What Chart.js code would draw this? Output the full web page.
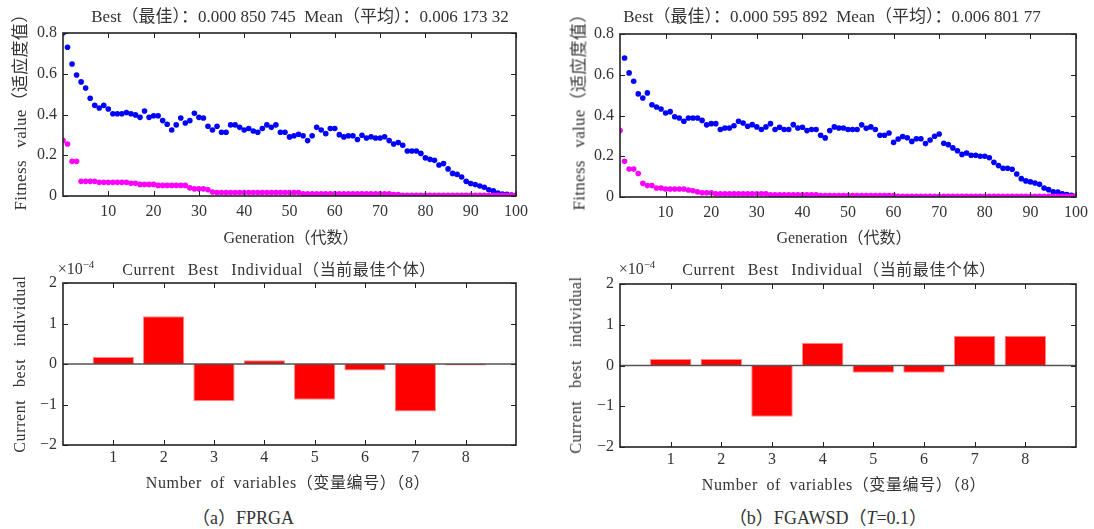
<!DOCTYPE html>
<html>
<head>
<meta charset="utf-8">
<script src="https://cdn.jsdelivr.net/npm/chart.js@4"></script>
<style>
body { margin: 0; background: #fff; width: 1094px; height: 529px; position: relative; overflow: hidden;
       font-family: 'Liberation Serif', 'Noto Sans CJK SC', serif; color: #333; }
canvas { position: absolute; }
.t { position: absolute; white-space: nowrap; transform: translate(-50%, -50%); font-size: 16px; }
.v { transform: translate(-50%, -50%) rotate(-90deg); }
.head { font-size: 17px; }
.sp { word-spacing: 8px; letter-spacing: 0.6px; }
sup { font-size: 11px; }
</style>
</head>
<body>
<canvas id="fitA" width="545" height="250" style="left:0;top:0"></canvas>
<canvas id="fitB" width="546" height="250" style="left:548px;top:0"></canvas>
<canvas id="barA" width="545" height="215" style="left:0;top:255px"></canvas>
<canvas id="barB" width="546" height="215" style="left:548px;top:255px"></canvas>

<div class="t head" style="left:300px;top:14px">Best（最佳）：0.000 850 745&nbsp;&nbsp;Mean（平均）：0.006 173 32</div>
<div class="t head" style="left:832px;top:14px">Best（最佳）：0.000 595 892&nbsp;&nbsp;Mean（平均）：0.006 801 77</div>
<div class="t v sp" style="left:18px;top:108px;font-size:17px;letter-spacing:0.3px">Fitness value（适应度值）</div>
<div class="t v sp" style="left:577px;top:108px;font-size:17px;letter-spacing:0.3px">Fitness value（适应度值）</div>
<div class="t" style="left:291px;top:236px">Generation（代数）</div>
<div class="t" style="left:844px;top:236px">Generation（代数）</div>

<div class="t" style="left:76px;top:268px">×10<sup>−4</sup></div>
<div class="t" style="left:637px;top:268px">×10<sup>−4</sup></div>
<div class="t sp" style="left:279px;top:268px">Current Best Individual（当前最佳个体）</div>
<div class="t sp" style="left:839px;top:268px">Current Best Individual（当前最佳个体）</div>
<div class="t v sp" style="left:20px;top:364px">Current best individual</div>
<div class="t v sp" style="left:576px;top:365px">Current best individual</div>
<div class="t sp" style="left:288px;top:481px;word-spacing:4px">Number of variables（变量编号）（8）</div>
<div class="t sp" style="left:844px;top:483px;word-spacing:4px">Number of variables（变量编号）（8）</div>
<div class="t" style="left:243px;top:516px;font-size:18px">（a）FPRGA</div>
<div class="t" style="left:828px;top:516px;font-size:18px">（b）FGAWSD（<i>T</i>=0.1）</div>

<script>
// generations 0..100
const generations = Array.from({ length: 101 }, (_, i) => i);

// (a) FPRGA
const meanFitnessA = [
    0.8, 0.73, 0.648, 0.594, 0.56, 0.53, 0.48, 0.445, 0.432, 0.445,
    0.427, 0.404, 0.404, 0.404, 0.41, 0.404, 0.398, 0.386, 0.417, 0.386,
    0.394, 0.394, 0.37, 0.352, 0.324, 0.349, 0.383, 0.358, 0.37, 0.406,
    0.386, 0.383, 0.342, 0.324, 0.342, 0.313, 0.313, 0.349, 0.349, 0.337,
    0.324, 0.331, 0.319, 0.313, 0.331, 0.349, 0.337, 0.349, 0.313, 0.313,
    0.29, 0.296, 0.303, 0.296, 0.272, 0.296, 0.337, 0.324, 0.306, 0.331,
    0.331, 0.301, 0.29, 0.296, 0.296, 0.277, 0.298, 0.285, 0.291, 0.285,
    0.285, 0.291, 0.272, 0.255, 0.262, 0.249, 0.221, 0.221, 0.221, 0.209,
    0.187, 0.18, 0.175, 0.152, 0.159, 0.133, 0.111, 0.106, 0.093, 0.072,
    0.061, 0.056, 0.049, 0.043, 0.031, 0.025, 0.015, 0.01, 0.008, 0.005, 0.003
];
const bestFitnessA = [
    0.273, 0.255, 0.17, 0.17, 0.072, 0.072, 0.072, 0.072, 0.067, 0.067,
    0.067, 0.067, 0.067, 0.067, 0.067, 0.062, 0.062, 0.057, 0.057, 0.057,
    0.057, 0.052, 0.052, 0.052, 0.052, 0.052, 0.052, 0.052, 0.04, 0.035,
    0.035, 0.035, 0.031, 0.02, 0.017, 0.017, 0.017, 0.017, 0.017, 0.017,
    0.017, 0.017, 0.017, 0.017, 0.017, 0.017, 0.017, 0.017, 0.017, 0.017,
    0.017, 0.017, 0.017, 0.011, 0.011, 0.011, 0.011, 0.011, 0.011, 0.011,
    0.011, 0.011, 0.011, 0.011, 0.011, 0.011, 0.011, 0.011, 0.011, 0.011,
    0.011, 0.011, 0.011, 0.007, 0.007, 0.003, 0.003, 0.003, 0.003, 0.003,
    0.003, 0.003, 0.003, 0.003, 0.003, 0.003, 0.003, 0.003, 0.003, 0.003,
    0.003, 0.003, 0.003, 0.003, 0.003, 0.003, 0.003, 0.003, 0.003, 0.003, 0.003
];

// (b) FGAWSD (T=0.1), generation 0 mean is above the axis
const meanFitnessB = [
    null, 0.682, 0.609, 0.568, 0.506, 0.486, 0.511, 0.453, 0.442, 0.432,
    0.412, 0.419, 0.394, 0.388, 0.372, 0.388, 0.388, 0.388, 0.376, 0.354,
    0.36, 0.36, 0.331, 0.339, 0.339, 0.35, 0.372, 0.363, 0.347, 0.355,
    0.344, 0.331, 0.344, 0.36, 0.331, 0.342, 0.331, 0.331, 0.355, 0.339,
    0.342, 0.326, 0.331, 0.331, 0.303, 0.29, 0.326, 0.344, 0.339, 0.339,
    0.331, 0.331, 0.331, 0.354, 0.337, 0.344, 0.331, 0.303, 0.303, 0.314,
    0.268, 0.285, 0.297, 0.291, 0.273, 0.286, 0.286, 0.262, 0.28, 0.298,
    0.309, 0.264, 0.257, 0.241, 0.227, 0.209, 0.216, 0.205, 0.205, 0.2,
    0.2, 0.193, 0.17, 0.154, 0.141, 0.141, 0.136, 0.113, 0.09, 0.079,
    0.074, 0.069, 0.062, 0.044, 0.036, 0.025, 0.024, 0.016, 0.012, 0.008, 0.005
];
const bestFitnessB = [
    0.326, 0.175, 0.137, 0.137, 0.115, 0.067, 0.056, 0.056, 0.044, 0.044,
    0.039, 0.039, 0.039, 0.039, 0.039, 0.034, 0.031, 0.025, 0.021, 0.021,
    0.021, 0.016, 0.016, 0.016, 0.016, 0.016, 0.016, 0.016, 0.016, 0.016,
    0.016, 0.016, 0.016, 0.011, 0.011, 0.011, 0.011, 0.011, 0.011, 0.011,
    0.011, 0.011, 0.011, 0.011, 0.007, 0.007, 0.007, 0.007, 0.007, 0.007,
    0.007, 0.007, 0.007, 0.007, 0.007, 0.007, 0.007, 0.007, 0.007, 0.007,
    0.007, 0.004, 0.004, 0.004, 0.004, 0.004, 0.004, 0.004, 0.004, 0.004,
    0.004, 0.004, 0.004, 0.004, 0.004, 0.004, 0.004, 0.004, 0.004, 0.004,
    0.004, 0.004, 0.004, 0.004, 0.004, 0.004, 0.004, 0.004, 0.004, 0.004,
    0.004, 0.004, 0.004, 0.004, 0.004, 0.004, 0.004, 0.004, 0.004, 0.004, 0.004
];

// current best individual, in units of 1e-4
const variableIds = [1, 2, 3, 4, 5, 6, 7, 8];
const bestIndividualA = [0.17, 1.18, -0.92, 0.09, -0.88, -0.16, -1.17, -0.04];
const bestIndividualB = [0.16, 0.16, -1.26, 0.56, -0.18, -0.18, 0.73, 0.73];

const generationTicks = [10, 20, 30, 40, 50, 60, 70, 80, 90, 100];
const fitnessTicks = [0, 0.2, 0.4, 0.6, 0.8];
const individualTicks = [-2, -1, 0, 1, 2];

Chart.defaults.font.family = "'Liberation Serif', 'Noto Sans CJK SC', serif";
Chart.defaults.font.size = 16;
Chart.defaults.color = '#333';

// box around the axes, inward tick marks on all four sides, optional zero line
const framePlugin = {
    id: 'frame',
    afterDatasetsDraw(chart, args, opts) {
        const { ctx, chartArea: a, scales: { x, y } } = chart;
        ctx.save();
        if (opts.baseline) {
            const y0 = y.getPixelForValue(0);
            ctx.strokeStyle = '#555';
            ctx.lineWidth = 1.5;
            ctx.beginPath();
            ctx.moveTo(a.left, y0);
            ctx.lineTo(a.right, y0);
            ctx.stroke();
        }
        ctx.strokeStyle = '#222';
        ctx.lineWidth = 1;
        ctx.beginPath();
        x.ticks.forEach(t => {
            const px = Math.round(x.getPixelForValue(t.value)) + 0.5;
            ctx.moveTo(px, a.bottom); ctx.lineTo(px, a.bottom - 5);
            ctx.moveTo(px, a.top); ctx.lineTo(px, a.top + 5);
        });
        y.ticks.forEach(t => {
            const py = Math.round(y.getPixelForValue(t.value)) + 0.5;
            ctx.moveTo(a.left, py); ctx.lineTo(a.left + 5, py);
            ctx.moveTo(a.right, py); ctx.lineTo(a.right - 5, py);
        });
        ctx.stroke();
        ctx.lineWidth = 1.6;
        ctx.strokeRect(a.left, a.top, a.width, a.height);
        ctx.restore();
    }
};

// box: canvas position on the page, area: wanted plot rectangle on the page
function areaOptions(box, area) {
    return {
        padding: { top: area.top - box.top, right: box.left + box.width - area.right, left: 0, bottom: 0 },
        yWidth: area.left - box.left,
        xHeight: box.top + box.height - area.bottom
    };
}

function fitnessChart(id, box, area, mean, best) {
    const lay = areaOptions(box, area);
    const points = (values) => generations.map((g, i) => ({ x: g, y: values[i] }));
    return new Chart(document.getElementById(id), {
        type: 'scatter',
        data: {
            datasets: [
                { data: points(best), backgroundColor: '#ff00ff', pointRadius: 2.8, pointBorderWidth: 0, clip: 0 },
                { data: points(mean), backgroundColor: '#0000ff', pointRadius: 2.8, pointBorderWidth: 0, clip: 0 }
            ]
        },
        options: {
            responsive: false,
            animation: false,
            layout: { padding: lay.padding },
            plugins: { legend: { display: false }, tooltip: { enabled: false }, frame: { baseline: false } },
            scales: {
                x: {
                    type: 'linear', min: 0, max: 100,
                    grid: { display: false, drawTicks: false },
                    border: { display: false },
                    ticks: { padding: 6, maxRotation: 0, autoSkip: false },
                    afterBuildTicks: s => { s.ticks = generationTicks.map(v => ({ value: v })); },
                    afterFit: s => { s.height = lay.xHeight; }
                },
                y: {
                    min: 0, max: 0.8,
                    grid: { display: false, drawTicks: false },
                    border: { display: false },
                    ticks: { padding: 6, callback: v => v === 0 ? '0' : v.toFixed(1) },
                    afterBuildTicks: s => { s.ticks = fitnessTicks.map(v => ({ value: v })); },
                    afterFit: s => { s.width = lay.yWidth; }
                }
            }
        },
        plugins: [framePlugin]
    });
}

function individualChart(id, box, area, values) {
    const lay = areaOptions(box, area);
    return new Chart(document.getElementById(id), {
        type: 'bar',
        data: {
            datasets: [{
                data: variableIds.map((v, i) => ({ x: v, y: values[i] })),
                backgroundColor: '#ff0000',
                borderColor: '#ff8c8c',
                borderWidth: 1,
                barPercentage: 0.82,
                categoryPercentage: 1
            }]
        },
        options: {
            responsive: false,
            animation: false,
            layout: { padding: lay.padding },
            plugins: { legend: { display: false }, tooltip: { enabled: false }, frame: { baseline: true } },
            scales: {
                x: {
                    type: 'linear', min: 0, max: 9, offset: false,
                    grid: { display: false, drawTicks: false },
                    border: { display: false },
                    ticks: { padding: 3, maxRotation: 0, autoSkip: false },
                    afterBuildTicks: s => { s.ticks = variableIds.map(v => ({ value: v })); },
                    afterFit: s => { s.height = lay.xHeight; }
                },
                y: {
                    min: -2, max: 2,
                    grid: { display: false, drawTicks: false },
                    border: { display: false },
                    ticks: { padding: 6, callback: v => v < 0 ? '\u2212' + Math.abs(v) : String(v) },
                    afterBuildTicks: s => { s.ticks = individualTicks.map(v => ({ value: v })); },
                    afterFit: s => { s.width = lay.yWidth; }
                }
            }
        },
        plugins: [framePlugin]
    });
}

fitnessChart('fitA', { left: 0, top: 0, width: 545, height: 250 }, { left: 63, top: 33, right: 516, bottom: 196 }, meanFitnessA, bestFitnessA);
fitnessChart('fitB', { left: 548, top: 0, width: 546, height: 250 }, { left: 620, top: 34, right: 1076, bottom: 197 }, meanFitnessB, bestFitnessB);
individualChart('barA', { left: 0, top: 255, width: 545, height: 215 }, { left: 63, top: 283, right: 516, bottom: 445 }, bestIndividualA);
individualChart('barB', { left: 548, top: 255, width: 546, height: 215 }, { left: 620, top: 284, right: 1076, bottom: 447 }, bestIndividualB);
</script>
</body>
</html>
